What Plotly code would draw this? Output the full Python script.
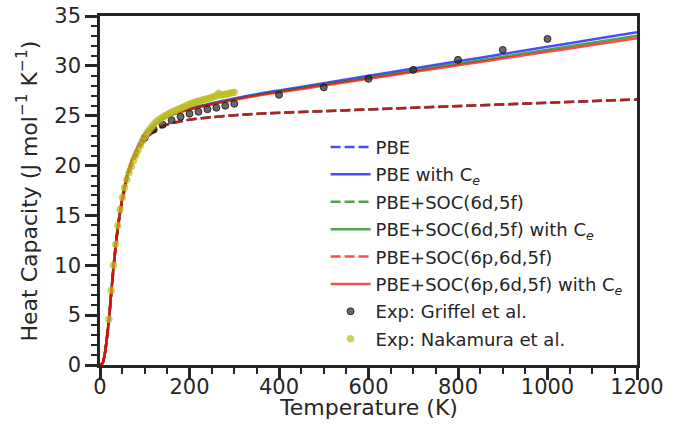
import plotly.graph_objects as go

# Temperature grid for the calculated curves (K)
t_calc = [0, 5, 10, 15, 20, 25, 30, 35, 40, 45, 50, 60, 70, 80, 90, 100, 110, 120,
          130, 140, 160, 180, 200, 250, 300, 350, 400, 500, 600, 700, 800, 900,
          1000, 1100, 1200]

# Lattice-only heat capacity (J mol^-1 K^-1)
pbe = [0, 0.12, 0.9, 2.5, 4.5, 7.1, 9.6, 11.8, 13.7, 15.2, 16.5, 18.6, 20.0, 21.0,
       21.9, 22.6, 23.05, 23.4, 23.7, 23.95, 24.25, 24.45, 24.6, 24.85, 25.04,
       25.18, 25.28, 25.45, 25.62, 25.79, 25.96, 26.12, 26.29, 26.46, 26.62]
soc_df = [0, 0.12, 0.9, 2.5, 4.5, 7.1, 9.6, 11.8, 13.7, 15.2, 16.5, 18.6, 20.0, 21.0,
          21.9, 22.6, 23.05, 23.4, 23.7, 23.95, 24.25, 24.45, 24.6, 24.85, 25.05,
          25.19, 25.29, 25.46, 25.63, 25.8, 25.97, 26.13, 26.3, 26.47, 26.64]
soc_pdf = [0, 0.12, 0.9, 2.5, 4.5, 7.1, 9.6, 11.8, 13.7, 15.2, 16.5, 18.6, 20.0, 21.0,
           21.9, 22.6, 23.05, 23.4, 23.7, 23.95, 24.25, 24.45, 24.6, 24.85, 25.05,
           25.2, 25.3, 25.47, 25.64, 25.81, 25.98, 26.14, 26.31, 26.48, 26.65]

# Lattice + electronic heat capacity
pbe_ce = [0, 0.15, 0.96, 2.58, 4.61, 7.24, 9.77, 12.0, 13.92, 15.45, 16.78, 18.94,
          20.39, 21.45, 22.4, 23.16, 23.67, 24.07, 24.43, 24.73, 25.15, 25.46,
          25.72, 26.25, 26.73, 27.16, 27.54, 28.27, 29.0, 29.73, 30.46, 31.18,
          31.91, 32.64, 33.37]
soc_df_ce = [0, 0.15, 0.95, 2.58, 4.61, 7.23, 9.76, 11.99, 13.91, 15.44, 16.77,
             18.92, 20.37, 21.42, 22.38, 23.13, 23.63, 24.04, 24.39, 24.69, 25.1,
             25.4, 25.66, 26.18, 26.64, 27.06, 27.42, 28.12, 28.82, 29.52, 30.22,
             30.91, 31.61, 32.31, 33.01]
soc_pdf_ce = [0, 0.15, 0.95, 2.58, 4.6, 7.23, 9.75, 11.98, 13.9, 15.43, 16.76,
              18.91, 20.36, 21.41, 22.36, 23.11, 23.61, 24.01, 24.36, 24.66, 25.07,
              25.37, 25.62, 26.13, 26.58, 26.99, 27.34, 28.02, 28.7, 29.38, 30.06,
              30.73, 31.41, 32.09, 32.77]

# Experimental data
t_griffel = [100, 120, 140, 160, 180, 200, 220, 240, 260, 280, 300,
             400, 500, 600, 700, 800, 900, 1000]
cp_griffel = [22.8, 23.6, 24.1, 24.55, 24.9, 25.2, 25.4, 25.65, 25.8, 26.0, 26.2,
              27.1, 27.85, 28.7, 29.6, 30.6, 31.6, 32.7]

t_nakamura = [20, 25, 30, 35, 40, 45, 50, 55, 60, 65, 70, 75, 80, 85, 90, 95, 100,
              105, 110, 115, 120, 125, 130, 135, 140, 145, 150, 155, 160, 165, 170,
              175, 180, 185, 190, 195, 200, 205, 210, 215, 220, 225, 230, 235, 240,
              245, 250, 255, 260, 265, 270, 275, 280, 285, 290, 295, 300]
cp_nakamura = [4.6, 7.5, 10.0, 12.1, 14.0, 15.6, 16.8, 17.8, 18.6, 19.3, 19.9, 20.5,
               21.0, 21.5, 22.0, 22.5, 22.9, 23.3, 23.6, 23.9, 24.15, 24.35, 24.55,
               24.7, 24.85, 25.0, 25.1, 25.25, 25.35, 25.45, 25.55, 25.65, 25.75,
               25.85, 25.95, 26.05, 26.15, 26.25, 26.3, 26.4, 26.45, 26.5, 26.6,
               26.65, 26.7, 26.75, 26.85, 26.9, 27.0, 27.25, 27.05, 27.1, 27.15, 27.2,
               27.25, 27.3, 27.35]

BLUE = "rgba(0,0,255,0.7)"
GREEN = "rgba(0,128,0,0.7)"
RED = "rgba(255,0,0,0.7)"
INK = "#262626"
CE = "C<sub><i>e</i></sub>"

curves = [
    ("PBE", pbe, BLUE, "10px,4px"),
    (f"PBE with {CE}", pbe_ce, BLUE, "solid"),
    ("PBE+SOC(6d,5f)", soc_df, GREEN, "10px,4px"),
    (f"PBE+SOC(6d,5f) with {CE}", soc_df_ce, GREEN, "solid"),
    ("PBE+SOC(6p,6d,5f)", soc_pdf, RED, "10px,4px"),
    (f"PBE+SOC(6p,6d,5f) with {CE}", soc_pdf_ce, RED, "solid"),
]

fig = go.Figure()
for i, (name, vals, color, dash) in enumerate(curves):
    fig.add_trace(go.Scatter(
        x=t_calc, y=vals, name=name, mode="lines", line_shape="spline",
        legendgroup=f"g{i}",
        line=dict(color=color, width=2.5, dash=dash),
    ))

fig.add_trace(go.Scatter(
    x=t_griffel, y=cp_griffel, name="Exp: Griffel et al.", mode="markers",
    legendgroup="g6",
    marker=dict(size=7, color="rgba(40,40,40,0.7)",
                line=dict(color="rgba(20,20,20,0.8)", width=1)),
))
fig.add_trace(go.Scatter(
    x=t_nakamura, y=cp_nakamura, name="Exp: Nakamura et al.", mode="markers",
    legendgroup="g7",
    marker=dict(size=7, color="rgba(188,189,34,0.72)",
                line=dict(color="rgba(188,189,34,0.5)", width=0.5)),
))

axis_common = dict(
    showline=True, linecolor=INK, linewidth=2.5, mirror=True,
    ticks="outside", ticklen=12, tickwidth=2.5, tickcolor=INK,
    showgrid=False, zeroline=False, automargin=False,
    tickfont=dict(family="DejaVu Sans", size=21, color=INK),
)

fig.update_xaxes(
    range=[0, 1200], tick0=0, dtick=200, ticklabelstandoff=-11,
    minor=dict(ticks="outside", ticklen=6, tickwidth=2, tickcolor=INK, dtick=50),
    **axis_common,
)
fig.update_yaxes(
    range=[0, 35], tick0=0, dtick=5,
    minor=dict(ticks="outside", ticklen=6, tickwidth=2, tickcolor=INK, dtick=1),
    **axis_common,
)

title_font = dict(family="DejaVu Sans", size=22, color=INK)
fig.add_annotation(
    text="Temperature (K)", xref="paper", yref="paper", x=0.5, y=-0.121,
    xanchor="center", yanchor="middle", showarrow=False, font=title_font,
)
fig.add_annotation(
    text="Heat Capacity (J mol<sup>\u22121</sup> K<sup>\u22121</sup>)",
    xref="paper", yref="paper", x=-0.136, y=0.5, textangle=-90,
    xanchor="center", yanchor="middle", showarrow=False, font=title_font,
)

fig.update_layout(
    width=684, height=441,
    margin=dict(l=100, r=47, t=16, b=76),
    paper_bgcolor="white", plot_bgcolor="white",
    font=dict(family="DejaVu Sans", color=INK),
    legend=dict(
        x=0.42, y=0.677, xanchor="left", yanchor="top",
        bgcolor="rgba(255,255,255,0)", borderwidth=0,
        font=dict(family="DejaVu Sans", size=18, color=INK),
        itemwidth=40, traceorder="grouped", tracegroupgap=1,
    ),
    showlegend=True,
)

fig.write_html("out.html")
